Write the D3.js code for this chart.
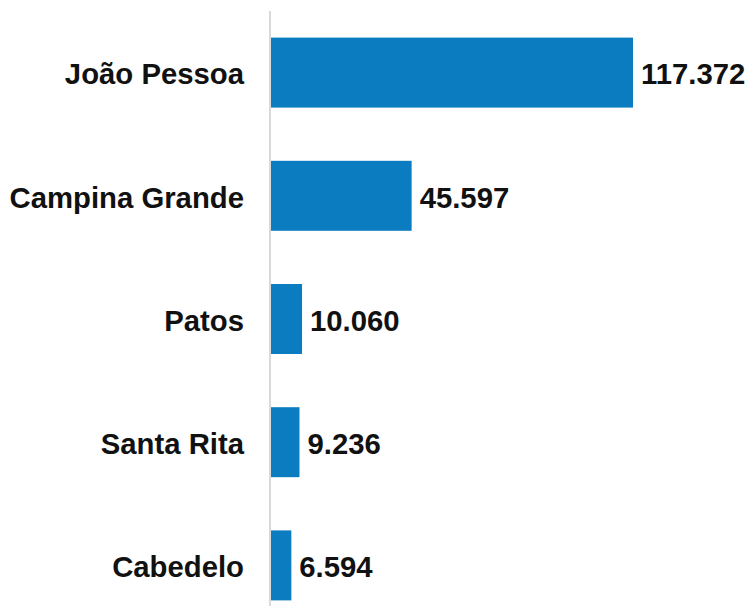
<!DOCTYPE html>
<html><head><meta charset="utf-8">
<script src="https://cdn.jsdelivr.net/npm/d3@7"></script>
<style>body{margin:0;background:#fff}</style>
</head><body>
<svg id="c" width="745" height="606"></svg>
<script>
const categories = ["João Pessoa","Campina Grande","Patos","Santa Rita","Cabedelo"];
const values = [117372, 45597, 10060, 9236, 6594];
const valueLabels = ["117.372","45.597","10.060","9.236","6.594"];

const svg = d3.select("#c");
const x0 = 270, yTop = 11, yBottom = 627;
const x = d3.scaleLinear().domain([0, 117372]).range([x0 + 1, 633]);
const y = d3.scaleBand().domain(categories).range([yTop, yBottom]).paddingInner(0.432).paddingOuter(0.216);

const data = categories.map((c,i)=>({c, v: values[i], l: valueLabels[i]}));

svg.selectAll("rect.bar").data(data).join("rect")
  .attr("class","bar")
  .attr("x", x(0))
  .attr("y", d=>y(d.c))
  .attr("width", d=>x(d.v)-x(0))
  .attr("height", y.bandwidth())
  .attr("fill", "#0b7cc0");

svg.append("line").attr("x1", x0).attr("x2", x0).attr("y1", 11).attr("y2", 606)
  .attr("stroke", "#cccccc").attr("stroke-width", 1.5);

svg.selectAll("text.cat").data(data).join("text")
  .attr("class","cat")
  .attr("x", x0 - 26)
  .attr("y", d=>y(d.c)+y.bandwidth()/2)
  .attr("dy","0.4em")
  .attr("text-anchor","end")
  .attr("font-family","'Liberation Sans', Arial, sans-serif")
  .attr("font-weight","bold")
  .attr("font-size","29.3px")
  .attr("fill","#111")
  .text(d=>d.c);

svg.selectAll("text.val").data(data).join("text")
  .attr("class","val")
  .attr("x", d=>x(d.v)+8)
  .attr("y", d=>y(d.c)+y.bandwidth()/2)
  .attr("dy","0.4em")
  .attr("font-family","'Liberation Sans', Arial, sans-serif")
  .attr("font-weight","bold")
  .attr("font-size","29.3px")
  .attr("fill","#111")
  .text(d=>d.l);
</script>
</body></html>
